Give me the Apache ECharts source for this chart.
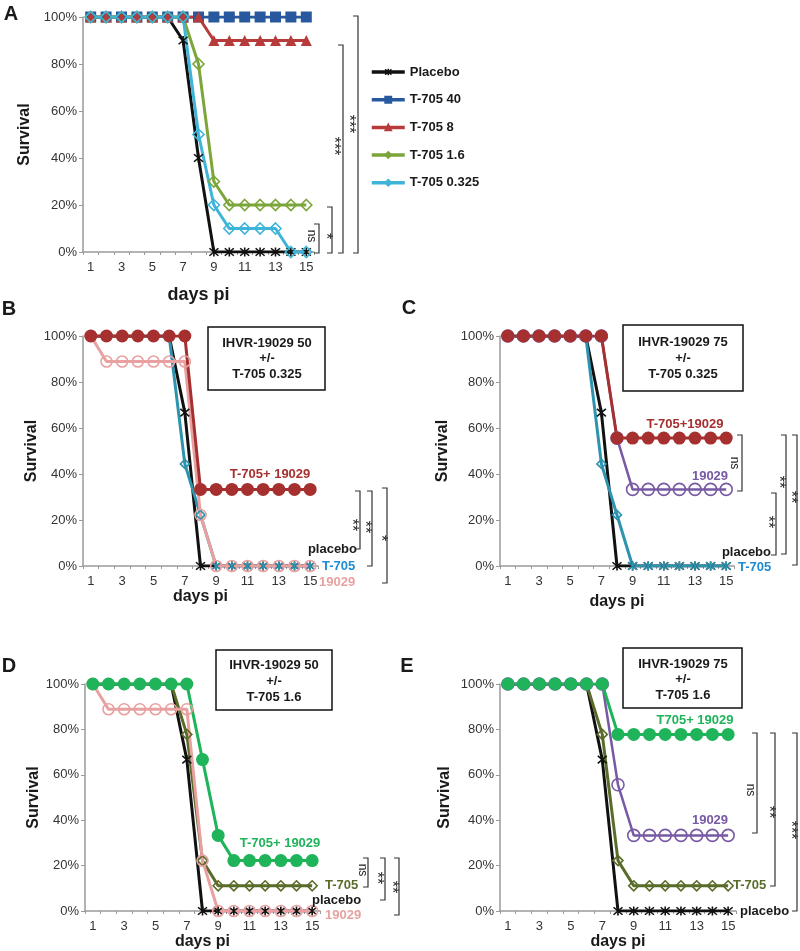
<!DOCTYPE html>
<html><head><meta charset="utf-8">
<script src="https://cdn.jsdelivr.net/npm/echarts@6/dist/echarts.min.js"></script>
<style>html,body{margin:0;padding:0;background:#fff}#c{width:800px;height:951px}</style>
</head><body><div id="c"></div>
<script>
// ---------- data ----------
const days = ['1','2','3','4','5','6','7','8','9','10','11','12','13','14','15'];
const yTicks = [0,20,40,60,80,100];

// Panel A
const A_placebo = [100,100,100,100,100,100,90,40,0,0,0,0,0,0,0];
const A_t40     = [100,100,100,100,100,100,100,100,100,100,100,100,100,100,100];
const A_t8      = [100,100,100,100,100,100,100,100,90,90,90,90,90,90,90];
const A_t16     = [100,100,100,100,100,100,100,80,30,20,20,20,20,20,20];
const A_t0325   = [100,100,100,100,100,100,100,50,20,10,10,10,10,0,0];
// Panel B
const B_placebo = [100,100,100,100,100,100,66.7,0,0,0,0,0,0,0,0];
const B_t705    = [100,100,100,100,100,100,44.4,22.2,0,0,0,0,0,0,0];
const B_19029   = [100,88.9,88.9,88.9,88.9,88.9,88.9,22.2,0,0,0,0,0,0,0];
const B_combo   = [100,100,100,100,100,100,100,33.3,33.3,33.3,33.3,33.3,33.3,33.3,33.3];
// Panel C
const C_placebo = [100,100,100,100,100,100,66.7,0,0,0,0,0,0,0,0];
const C_t705    = [100,100,100,100,100,100,44.4,22.2,0,0,0,0,0,0,0];
const C_19029   = [100,100,100,100,100,100,100,55.6,33.3,33.3,33.3,33.3,33.3,33.3,33.3];
const C_combo   = [100,100,100,100,100,100,100,55.6,55.6,55.6,55.6,55.6,55.6,55.6,55.6];
// Panel D
const D_placebo = [100,100,100,100,100,100,66.7,0,0,0,0,0,0,0,0];
const D_t705    = [100,100,100,100,100,100,77.8,22.2,11.1,11.1,11.1,11.1,11.1,11.1,11.1];
const D_19029   = [100,88.9,88.9,88.9,88.9,88.9,88.9,22.2,0,0,0,0,0,0,0];
const D_combo   = [100,100,100,100,100,100,100,66.7,33.3,22.2,22.2,22.2,22.2,22.2,22.2];
// Panel E
const E_placebo = [100,100,100,100,100,100,66.7,0,0,0,0,0,0,0,0];
const E_t705    = [100,100,100,100,100,100,77.8,22.2,11.1,11.1,11.1,11.1,11.1,11.1,11.1];
const E_19029   = [100,100,100,100,100,100,100,55.6,33.3,33.3,33.3,33.3,33.3,33.3,33.3];
const E_combo   = [100,100,100,100,100,100,100,77.8,77.8,77.8,77.8,77.8,77.8,77.8,77.8];

// ---------- style ----------
const FF = '"Liberation Sans", Arial, Helvetica, sans-serif';
const ASTER = 'path://M0,0L10,10M10,0L0,10M5,-1L5,11';
const COL = {
  black:'#111111', blue:'#28599E', red:'#B83B3B', lime:'#7CA53A', cyan:'#3EB4D8',
  dred:'#A5302F', pink:'#E8A1A0', teal:'#2E93AE', tealText:'#1E8CD2',
  purple:'#7759A4', green:'#1FB45A', olive:'#5A6C2A', axis:'#9a9a9a'
};

const grids = [
  {left:83,  top:17,  width:231, height:235},
  {left:83,  top:336, width:235, height:230},
  {left:500, top:336, width:234, height:230},
  {left:85,  top:684, width:235, height:227},
  {left:500, top:684, width:236, height:227}
];
const xNameGap = [34,23,28,23,23];
const xNameSize = [18,16,16,16,16];
const yNameGap = [50,42,49,40,47];

const xAxes = grids.map((g,i)=>({
  type:'category', gridIndex:i, data:days, boundaryGap:true,
  name:'days pi', nameLocation:'middle', nameGap:xNameGap[i],
  nameTextStyle:{fontWeight:'bold', fontSize:xNameSize[i], color:'#1a1a1a', fontFamily:FF},
  axisLine:{lineStyle:{color:COL.axis, width:1.5}},
  axisTick:{show:true, interval:0, length:3, lineStyle:{color:COL.axis}},
  axisLabel:{interval:1, margin:9, fontSize:13, color:'#333', fontFamily:FF},
  splitLine:{show:false}
}));
const yAxes = grids.map((g,i)=>({
  type:'value', gridIndex:i, min:yTicks[0], max:yTicks[yTicks.length-1], interval:20,
  name:'Survival', nameLocation:'middle', nameGap:yNameGap[i], nameRotate:90,
  nameTextStyle:{fontWeight:'bold', fontSize:16, color:'#1a1a1a', fontFamily:FF},
  axisLine:{show:true, lineStyle:{color:COL.axis, width:1.5}},
  axisTick:{show:true, length:4, lineStyle:{color:COL.axis}},
  axisLabel:{formatter:'{value}%', margin:6, fontSize:13, color:'#333', fontFamily:FF},
  splitLine:{show:false}
}));

function ser(name, gi, data, color, symbol, size, filled, lw){
  return {
    name, type:'line', xAxisIndex:gi, yAxisIndex:gi, data,
    symbol, symbolSize:size, showAllSymbol:true,
    lineStyle:{color, width:lw||3},
    itemStyle: filled ? {color, borderWidth:0} : {color:'rgba(255,255,255,0)', borderColor:color, borderWidth:1.6},
    emphasis:{disabled:true}, z:2
  };
}
const tealSym = v => (v === 0 ? ASTER : 'diamond');

const series = [
  ser('Placebo',0,A_placebo,COL.black,ASTER,9,false,3),
  ser('T-705 40',0,A_t40,COL.blue,'rect',11,true,3),
  ser('T-705 8',0,A_t8,COL.red,'triangle',11,true,3),
  ser('T-705 1.6',0,A_t16,COL.lime,'diamond',11,false,3),
  ser('T-705 0.325',0,A_t0325,COL.cyan,'diamond',11,false,3),

  ser('B placebo',1,B_placebo,COL.black,ASTER,9,false,3),
  ser('B T-705',1,B_t705,COL.teal,tealSym,9,false,3),
  ser('B 19029',1,B_19029,COL.pink,'circle',11,false,3),
  ser('B combo',1,B_combo,COL.dred,'circle',13,true,3),

  ser('C placebo',2,C_placebo,COL.black,ASTER,9,false,3),
  ser('C T-705',2,C_t705,COL.teal,tealSym,9,false,3),
  ser('C 19029',2,C_19029,COL.purple,'circle',12,false,2.5),
  ser('C combo',2,C_combo,COL.dred,'circle',13,true,3),

  ser('D placebo',3,D_placebo,COL.black,ASTER,9,false,3),
  ser('D T-705',3,D_t705,COL.olive,'diamond',10,false,3),
  ser('D 19029',3,D_19029,COL.pink,'circle',11,false,3),
  ser('D combo',3,D_combo,COL.green,'circle',13,true,3),

  ser('E placebo',4,E_placebo,COL.black,ASTER,9,false,3),
  ser('E T-705',4,E_t705,COL.olive,'diamond',10,false,3),
  ser('E 19029',4,E_19029,COL.purple,'circle',12,false,2.5),
  ser('E combo',4,E_combo,COL.green,'circle',13,true,3)
];

// ---------- annotations ----------
const G = [];
function txt(t, x, y, o){
  o = o||{};
  G.push({type:'text', x, y, rotation:o.rot||0, z:10, style:{
    text:t, x:0, y:0, fill:o.color||'#1a1a1a', align:o.align||'center', verticalAlign:'middle',
    font:(o.weight||'bold')+' '+(o.size||13)+'px '+FF, lineHeight:o.lh}});
}
function bracket(x, y1, y2, label, tx, ty){
  G.push({type:'polyline', z:10, shape:{points:[[x-5,y1],[x,y1],[x,y2],[x-5,y2]]},
    style:{stroke:'#333', lineWidth:1.2, fill:null}});
  const isNs = label==='ns';
  txt(label, tx + (isNs?0:-3), ty, {rot:-Math.PI/2, weight:'normal', size: isNs?12:16, color:'#222'});
}
function box(x1,y1,x2,y2,lines,cx,ys){
  G.push({type:'rect', z:9, shape:{x:x1,y:y1,width:x2-x1,height:y2-y1},
    style:{fill:'#fff', stroke:'#111', lineWidth:1.5}});
  lines.forEach((l,i)=>txt(l, cx, ys[i], {size:13}));
}
// panel letters
txt('A', 11, 14, {size:20}); txt('B', 9, 309, {size:20}); txt('C', 409, 308, {size:20});
txt('D', 9, 666, {size:20}); txt('E', 407, 666, {size:20});

// boxes
box(208,327,325,390,['IHVR-19029 50','+/-','T-705 0.325'],267,[343,358,374]);
box(623,325,743,391,['IHVR-19029 75','+/-','T-705 0.325'],683,[342,358,374]);
box(216,650,332,710,['IHVR-19029 50','+/-','T-705 1.6'],274,[665,681,697]);
box(623,648,742,708,['IHVR-19029 75','+/-','T-705 1.6'],683,[664,679,695]);

// side labels
txt('T-705+ 19029', 270, 474, {color:COL.dred});
txt('placebo', 357, 549, {align:'right'});
txt('T-705', 322, 566, {align:'left', color:COL.tealText});
txt('19029', 319, 582, {align:'left', color:COL.pink});

txt('T-705+19029', 685, 424, {color:COL.dred});
txt('19029', 710, 476, {color:COL.purple});
txt('placebo', 771, 552, {align:'right'});
txt('T-705', 738, 567, {align:'left', color:COL.tealText});

txt('T-705+ 19029', 280, 843, {color:COL.green});
txt('T-705', 325, 885, {align:'left', color:COL.olive});
txt('placebo', 312, 900, {align:'left'});
txt('19029', 325, 915, {align:'left', color:COL.pink});

txt('T705+ 19029', 695, 720, {color:COL.green});
txt('19029', 710, 820, {color:COL.purple});
txt('T-705', 733, 885, {align:'left', color:COL.olive});
txt('placebo', 740, 911, {align:'left'});

// brackets
bracket(319,224,253,'ns',311,236);
bracket(332,207,253,'*',328,236);
bracket(343,45,253,'***',336,146);
bracket(358,16,253,'***',351,124);

bracket(360,491,549,'**',354,525);
bracket(372,491,566,'**',367,527);
bracket(387,488,583,'*',383,538);

bracket(742,435,491,'ns',734,463);
bracket(776,493,555,'**',770,522);
bracket(786,435,554,'**',781,482);
bracket(797,435,565,'**',793,497);

bracket(368,858,887,'ns',362,870);
bracket(385,858,900,'**',379,878);
bracket(399,858,915,'**',394,887);

bracket(757,733,833,'ns',750,790);
bracket(775,733,886,'**',771,812);
bracket(797,733,911,'***',793,830);

const legendNames = ['Placebo','T-705 40','T-705 8','T-705 1.6','T-705 0.325'];
const legendCols = [COL.black, COL.blue, COL.red, COL.lime, COL.cyan];

const chart = echarts.init(document.getElementById('c'), null, {renderer:'canvas'});
chart.setOption({
  animation:false,
  backgroundColor:'#fff',
  grid:grids,
  xAxis:xAxes,
  yAxis:yAxes,
  legend:{
    data:legendNames.map((n,i)=>({name:n,
      itemStyle:{color:legendCols[i], borderColor:legendCols[i], borderWidth:1.5},
      lineStyle:{color:legendCols[i], width:3.5}})),
    orient:'vertical', left:370, top:65, padding:0,
    itemWidth:33, itemHeight:8, itemGap:13.7, selectedMode:false,
    textStyle:{fontWeight:'bold', fontSize:13, color:'#1a1a1a', fontFamily:FF, lineHeight:14}
  },
  series,
  graphic:G
});
</script>
</body></html>
